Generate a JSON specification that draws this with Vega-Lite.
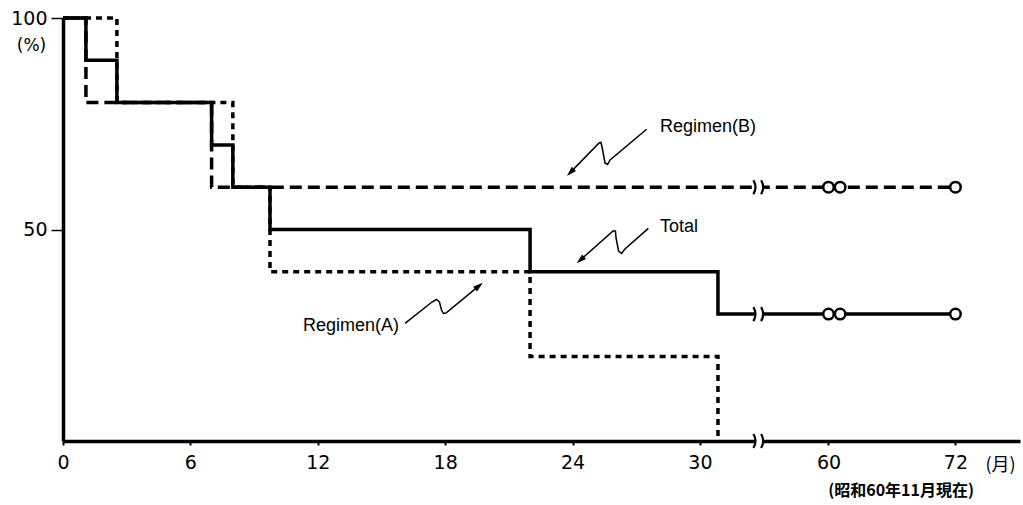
{
  "$schema": "https://vega.github.io/schema/vega-lite/v6.json",
  "width": 957,
  "height": 423,
  "autosize": {"type": "none"},
  "padding": {"left": 63, "top": 18, "right": 3, "bottom": 64},
  "background": "white",
  "config": {
    "view": {"stroke": null},
    "axis": {
      "grid": false,
      "domainColor": "black",
      "domainWidth": 3.5,
      "tickColor": "black",
      "labelColor": "black",
      "titleColor": "black",
      "labelFont": "DejaVu Sans",
      "labelFontSize": 19,
      "labelOverlap": false
    }
  },
  "title": {
    "text": "(昭和60年11月現在)",
    "orient": "bottom",
    "anchor": "end",
    "font": "Noto Sans CJK JP",
    "fontSize": 16,
    "fontWeight": "bold",
    "color": "black",
    "offset": 9,
    "dx": -46
  },
  "datasets": {
    "curves": [
      {"group": "Total", "month": 0, "pct": 100},
      {"group": "Total", "month": 1.08, "pct": 90},
      {"group": "Total", "month": 2.54, "pct": 80},
      {"group": "Total", "month": 7.0, "pct": 70},
      {"group": "Total", "month": 8.0, "pct": 60},
      {"group": "Total", "month": 9.75, "pct": 50},
      {"group": "Total", "month": 22.0, "pct": 40},
      {"group": "Total", "month": 30.85, "pct": 30},
      {"group": "Total", "month": 72, "pct": 30},
      {"group": "B", "month": 0, "pct": 100},
      {"group": "B", "month": 1.08, "pct": 80},
      {"group": "B", "month": 7.0, "pct": 60},
      {"group": "B", "month": 72, "pct": 60},
      {"group": "A", "month": 0, "pct": 100},
      {"group": "A", "month": 2.54, "pct": 80},
      {"group": "A", "month": 8.0, "pct": 60},
      {"group": "A", "month": 9.75, "pct": 40},
      {"group": "A", "month": 22.0, "pct": 20},
      {"group": "A", "month": 30.85, "pct": 0}
    ],
    "censored": [
      {"group": "B", "month": 60, "pct": 60},
      {"group": "B", "month": 61.1, "pct": 60},
      {"group": "B", "month": 72, "pct": 60},
      {"group": "Total", "month": 60, "pct": 30},
      {"group": "Total", "month": 61.1, "pct": 30},
      {"group": "Total", "month": 72, "pct": 30}
    ],
    "breaks": [
      {"month": 32.8, "pct": 60},
      {"month": 32.8, "pct": 30},
      {"month": 32.8, "pct": 0}
    ],
    "arrows": [
      {"id": "B", "seq": 1, "month": 27.49, "pct": 73.69},
      {"id": "B", "seq": 2, "month": 25.77, "pct": 66.43},
      {"id": "B", "seq": 3, "month": 25.65, "pct": 65.37},
      {"id": "B", "seq": 4, "month": 25.53, "pct": 65.72},
      {"id": "B", "seq": 5, "month": 25.39, "pct": 69.5},
      {"id": "B", "seq": 6, "month": 25.34, "pct": 70.57},
      {"id": "B", "seq": 7, "month": 25.25, "pct": 70.45},
      {"id": "B", "seq": 8, "month": 23.9, "pct": 63.5},
      {"id": "T", "seq": 1, "month": 27.57, "pct": 50.28},
      {"id": "T", "seq": 2, "month": 26.47, "pct": 45.39},
      {"id": "T", "seq": 3, "month": 26.31, "pct": 44.33},
      {"id": "T", "seq": 4, "month": 26.17, "pct": 44.92},
      {"id": "T", "seq": 5, "month": 26.05, "pct": 47.99},
      {"id": "T", "seq": 6, "month": 26.02, "pct": 49.65},
      {"id": "T", "seq": 7, "month": 25.91, "pct": 49.65},
      {"id": "T", "seq": 8, "month": 24.37, "pct": 42.79},
      {"id": "A", "seq": 1, "month": 16.11, "pct": 27.82},
      {"id": "A", "seq": 2, "month": 17.38, "pct": 32.86},
      {"id": "A", "seq": 3, "month": 17.59, "pct": 33.45},
      {"id": "A", "seq": 4, "month": 17.73, "pct": 32.86},
      {"id": "A", "seq": 5, "month": 17.83, "pct": 30.97},
      {"id": "A", "seq": 6, "month": 17.92, "pct": 30.14},
      {"id": "A", "seq": 7, "month": 18.04, "pct": 30.26},
      {"id": "A", "seq": 8, "month": 19.59, "pct": 36.67}
    ],
    "heads": [
      {"id": "B", "month": 23.9, "pct": 63.5},
      {"id": "T", "month": 24.37, "pct": 42.79},
      {"id": "A", "month": 19.59, "pct": 36.67}
    ],
    "labels": [
      {"text": "Regimen(B)", "month": 28.12, "pct": 74.2},
      {"text": "Total", "month": 28.12, "pct": 50.6},
      {"text": "Regimen(A)", "month": 11.3, "pct": 27.2}
    ]
  },
  "encoding": {
    "x": {
      "field": "month",
      "type": "quantitative",
      "scale": {"type": "linear", "domain": [0, 33, 54, 78.1], "range": [0, 700.6, 702, 957], "nice": false, "zero": false},
      "axis": {
        "values": [0, 6, 12, 18, 24, 30, 60, 72],
        "format": "d",
        "labelFlush": false,
        "tickSize": 4,
        "tickWidth": 2,
        "labelPadding": 8,
        "title": "(月)",
        "titleX": 937,
        "titleY": 24,
        "titleAlign": "center",
        "titleBaseline": "middle",
        "titleFont": "Noto Sans CJK JP",
        "titleFontSize": 18,
        "titleFontWeight": "normal"
      }
    },
    "y": {
      "field": "pct",
      "type": "quantitative",
      "scale": {"domain": [0, 100], "nice": false, "zero": true},
      "axis": {
        "values": [50, 100],
        "tickSize": 12,
        "tickWidth": 1.5,
        "labelPadding": 4,
        "title": "(%)",
        "titleAngle": 0,
        "titleX": -32,
        "titleY": 27,
        "titleAlign": "center",
        "titleBaseline": "middle",
        "titleFont": "DejaVu Sans",
        "titleFontSize": 17,
        "titleFontWeight": "normal"
      }
    }
  },
  "layer": [
    {
      "data": {"name": "curves"},
      "transform": [{"filter": "datum.group === 'A'"}],
      "mark": {"type": "line", "interpolate": "step-after", "color": "black", "strokeWidth": 3.5, "strokeDash": [6, 5]}
    },
    {
      "data": {"name": "curves"},
      "transform": [{"filter": "datum.group === 'B'"}],
      "mark": {"type": "line", "interpolate": "step-after", "color": "black", "strokeWidth": 3.5, "strokeDash": [12, 6]}
    },
    {
      "data": {"name": "curves"},
      "transform": [{"filter": "datum.group === 'Total'"}],
      "mark": {"type": "line", "interpolate": "step-after", "color": "black", "strokeWidth": 3.5}
    },
    {
      "data": {"name": "breaks"},
      "mark": {"type": "point", "shape": "M -0.5 -0.6 H 0.5 V 0.6 H -0.5 Z", "filled": true, "fill": "white", "opacity": 1, "strokeWidth": 0, "size": 196}
    },
    {
      "data": {"name": "breaks"},
      "mark": {"type": "point", "shape": "M -0.85 -1 Q -0.25 0 -0.85 1 M 0.25 -1 Q 0.85 0 0.25 1", "filled": false, "stroke": "black", "opacity": 1, "strokeWidth": 2.2, "size": 196}
    },
    {
      "data": {"name": "censored"},
      "mark": {"type": "point", "shape": "circle", "filled": true, "fill": "white", "stroke": "black", "opacity": 1, "strokeWidth": 2.5, "size": 110}
    },
    {
      "data": {"name": "arrows"},
      "mark": {"type": "line", "color": "black", "strokeWidth": 1.5},
      "encoding": {"detail": {"field": "id"}, "order": {"field": "seq", "type": "quantitative"}}
    },
    {
      "data": {"name": "heads"},
      "transform": [{"filter": "datum.id === 'B'"}],
      "mark": {"type": "point", "shape": "M 0 -1 L 0.6 1 L -0.6 1 Z", "filled": true, "color": "black", "opacity": 1, "size": 100, "angle": 224}
    },
    {
      "data": {"name": "heads"},
      "transform": [{"filter": "datum.id === 'T'"}],
      "mark": {"type": "point", "shape": "M 0 -1 L 0.6 1 L -0.6 1 Z", "filled": true, "color": "black", "opacity": 1, "size": 100, "angle": 228}
    },
    {
      "data": {"name": "heads"},
      "transform": [{"filter": "datum.id === 'A'"}],
      "mark": {"type": "point", "shape": "M 0 -1 L 0.6 1 L -0.6 1 Z", "filled": true, "color": "black", "opacity": 1, "size": 100, "angle": 50}
    },
    {
      "data": {"name": "labels"},
      "mark": {"type": "text", "align": "left", "baseline": "middle", "font": "Liberation Sans", "fontSize": 18, "color": "black"},
      "encoding": {"text": {"field": "text"}}
    }
  ]
}
